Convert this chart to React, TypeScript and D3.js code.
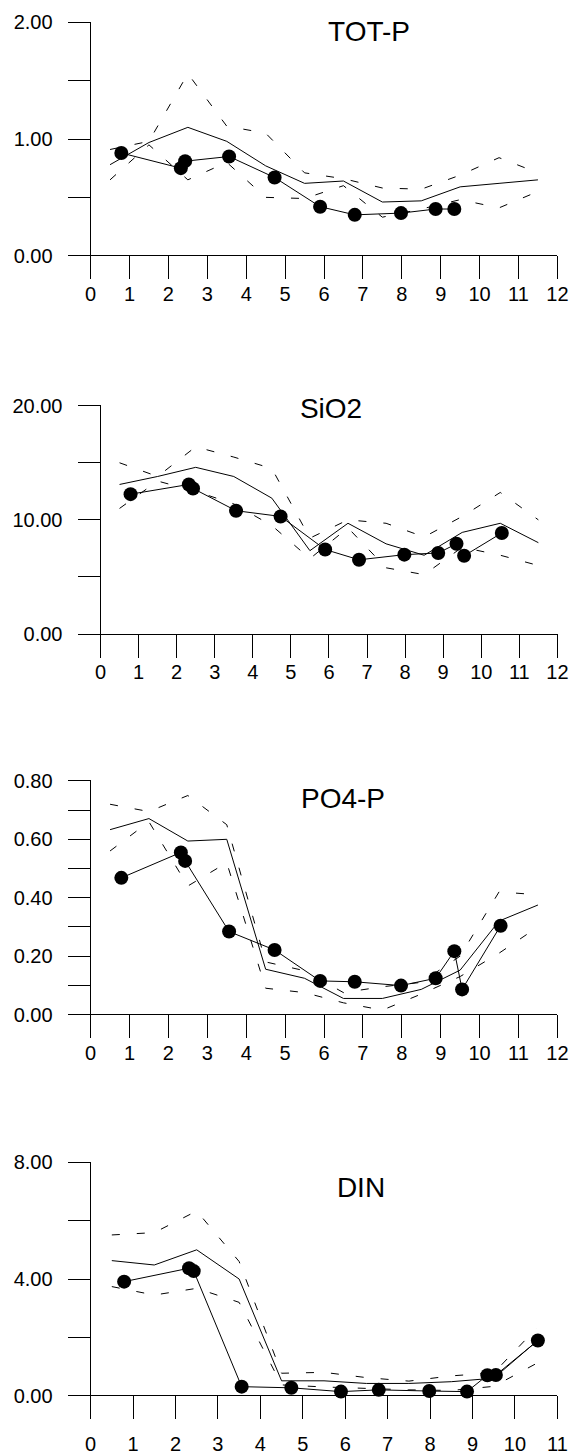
import React from 'react';
import * as d3 from 'd3';

// month midpoints for the long-term curves, and sampling dates for the observations
const months = [0.5, 1.5, 2.5, 3.5, 4.5, 5.5, 6.5, 7.5, 8.5, 9.5, 10.5, 11.5];
const sampleMonths = [0.79, 2.32, 2.43, 3.56, 4.73, 5.9, 6.79, 7.98, 8.87, 9.35, 9.55, 10.54];

// TOT-P
const totpMean = [0.78, 0.97, 1.1, 0.98, 0.77, 0.62, 0.64, 0.46, 0.47, 0.59, 0.62, 0.65];
const totpHigh = [0.91, 0.98, 1.56, 1.11, 1.05, 0.71, 0.66, 0.58, 0.57, 0.69, 0.84, 0.71];
const totpLow = [0.65, 0.95, 0.65, 0.8, 0.5, 0.49, 0.6, 0.33, 0.4, 0.48, 0.41, 0.55];
const totpObs = [0.88, 0.75, 0.81, 0.85, 0.67, 0.42, 0.35, 0.365, 0.4, 0.4];

// SiO2
const sio2Mean = [13.1, 13.8, 14.6, 13.8, 11.9, 7.3, 9.7, 7.9, 6.9, 8.9, 9.7, 8.0];
const sio2High = [15.0, 13.8, 16.4, 15.5, 14.5, 8.4, 10.0, 9.7, 8.5, 10.3, 12.4, 10.0];
const sio2Low = [11.0, 13.4, 12.5, 11.4, 9.5, 6.6, 9.3, 5.8, 5.2, 7.6, 6.9, 6.0];
const sio2Obs = [12.25, 13.1, 12.75, 10.8, 10.3, 7.4, 6.5, 6.95, 7.1, 7.9, 6.85, 8.85];

// PO4-P
const po4Mean = [0.633, 0.671, 0.594, 0.6, 0.155, 0.124, 0.055, 0.055, 0.086, 0.152, 0.32, 0.375];
const po4High = [0.72, 0.695, 0.75, 0.65, 0.18, 0.15, 0.075, 0.095, 0.11, 0.2, 0.42, 0.41];
const po4Low = [0.56, 0.66, 0.44, 0.52, 0.09, 0.075, 0.04, 0.015, 0.07, 0.13, 0.21, 0.3];
const po4Obs = [0.468, 0.555, 0.526, 0.284, 0.221, 0.115, 0.112, 0.099, 0.124, 0.217, 0.086, 0.304];

// DIN
const dinMean = [4.63, 4.48, 5.0, 4.0, 0.51, 0.51, 0.42, 0.42, 0.48, 0.6, 1.85];
const dinHigh = [5.51, 5.59, 6.33, 4.6, 0.77, 0.8, 0.62, 0.5, 0.68, 0.78, 2.3];
const dinLow = [3.74, 3.45, 3.68, 3.2, 0.37, 0.3, 0.25, 0.2, 0.18, 0.32, 1.1];
const dinObs = [3.91, 4.37, 4.27, 0.31, 0.27, 0.14, 0.2, 0.16, 0.14, 0.7, 0.71, 1.89];

const panels = [
  { title: 'TOT-P', mean: totpMean, high: totpHigh, low: totpLow, obs: totpObs,
    yMax: 2, yMinor: 0.5, yMajor: 1, xMax: 12,
    x0: 90.6, x1: 557.4, tickLeft: 67.6, yTop: 22.3, yBase: 255.7, labelY: 294, titleX: 369, titleY: 31 },
  { title: 'SiO2', mean: sio2Mean, high: sio2High, low: sio2Low, obs: sio2Obs,
    yMax: 20, yMinor: 5, yMajor: 10, xMax: 12,
    x0: 100.5, x1: 557.4, tickLeft: 77.5, yTop: 405.7, yBase: 634, labelY: 672, titleX: 331, titleY: 408 },
  { title: 'PO4-P', mean: po4Mean, high: po4High, low: po4Low, obs: po4Obs,
    yMax: 0.8, yMinor: 0.1, yMajor: 0.2, xMax: 12,
    x0: 90.6, x1: 557.4, tickLeft: 67.6, yTop: 780.9, yBase: 1014.5, labelY: 1052.5, titleX: 343, titleY: 798 },
  { title: 'DIN', mean: dinMean, high: dinHigh, low: dinLow, obs: dinObs,
    yMax: 8, yMinor: 2, yMajor: 4, xMax: 11,
    x0: 90.6, x1: 557.4, tickLeft: 67.6, yTop: 1162.3, yBase: 1395.7, labelY: 1443.5, titleX: 361, titleY: 1187 },
];

const font = '"Liberation Sans", Arial, sans-serif';

function Panel({ p }) {
  const x = d3.scaleLinear().domain([0, p.xMax]).range([p.x0, p.x1]);
  const y = d3.scaleLinear().domain([0, p.yMax]).range([p.yBase, p.yTop]);
  const fmt = d3.format('.2f');

  const curve = (vals) =>
    d3.line().x((d, i) => x(months[i])).y((d) => y(d))(vals);
  const obsPts = p.obs.map((v, i) => [x(sampleMonths[i]), y(v)]);
  const obsLine = d3.line()(obsPts);

  const nMinor = Math.round(p.yMax / p.yMinor);
  const minorTicks = d3.range(nMinor + 1).map((i) => i * p.yMinor);
  const xTicks = d3.range(p.xMax + 1);

  return (
    <g>
      {/* axes */}
      <g stroke='#000' strokeWidth={1} shapeRendering='crispEdges'>
        {minorTicks.map((t) => (
          <line key={'yt' + t} x1={p.tickLeft} x2={p.x0} y1={y(t)} y2={y(t)} />
        ))}
        <line x1={p.x0} x2={p.x0} y1={p.yTop} y2={p.yBase} />
        <line x1={p.tickLeft} x2={p.x1} y1={p.yBase} y2={p.yBase} />
        {xTicks.map((t) => (
          <line key={'xt' + t} x1={x(t)} x2={x(t)} y1={p.yBase} y2={p.yBase + 23.5} />
        ))}
      </g>

      {/* tick labels */}
      <g fontFamily={font} fontSize={20} fill='#000'>
        {minorTicks.filter((t) => Math.abs(t / p.yMajor - Math.round(t / p.yMajor)) < 1e-6).map((t) => (
          <text key={'yl' + t} x={p.tickLeft - 15} y={y(t)} textAnchor='end' dominantBaseline='central'>
            {fmt(t)}
          </text>
        ))}
        {xTicks.map((t) => (
          <text key={'xl' + t} x={x(t)} y={p.labelY} textAnchor='middle' dominantBaseline='central'>
            {t}
          </text>
        ))}
      </g>

      <text x={p.titleX} y={p.titleY} fontFamily={font} fontSize={28} textAnchor='middle' dominantBaseline='central'>
        {p.title}
      </text>

      {/* long-term curves */}
      <path d={curve(p.high)} fill='none' stroke='#000' strokeWidth={1} strokeDasharray='8,17' />
      <path d={curve(p.low)} fill='none' stroke='#000' strokeWidth={1} strokeDasharray='8,17' />
      <path d={curve(p.mean)} fill='none' stroke='#000' strokeWidth={1} />

      {/* observations */}
      <path d={obsLine} fill='none' stroke='#000' strokeWidth={1} />
      {obsPts.map((pt, i) => (
        <circle key={'o' + i} cx={pt[0]} cy={pt[1]} r={7} fill='#000' />
      ))}
    </g>
  );
}

export default function App() {
  return (
    <svg width={573} height={1454} style={{ position: 'absolute', left: 0, top: 0, background: '#fff' }}>
      <rect x={0} y={0} width={573} height={1454} fill='#fff' />
      {panels.map((p) => (
        <Panel key={p.title} p={p} />
      ))}
    </svg>
  );
}
